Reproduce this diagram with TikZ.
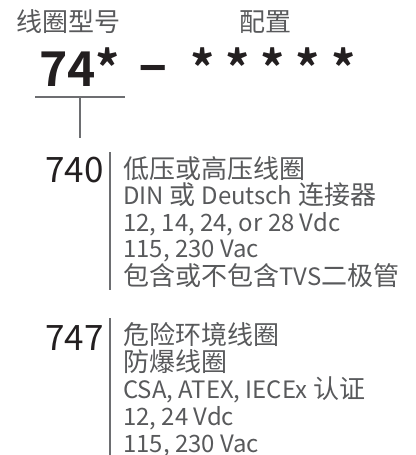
\documentclass[tikz,border=0pt]{standalone}
\usepackage{fontspec}
\setmainfont{Noto Sans CJK SC}[BoldFont={Noto Sans CJK SC Bold}]
\newfontfamily\latinfont{Noto Sans CJK SC}[Scale=0.92]
\newcommand{\latn}[1]{{\latinfont #1}}
\usepackage{tikz}
\usetikzlibrary{positioning,calc}

\definecolor{inkdark}{HTML}{231F20}
\definecolor{inkgrey}{HTML}{58595B}
\definecolor{rulegrey}{HTML}{6D6E71}

\begin{document}
\begin{tikzpicture}[x=1pt, y=-1pt,
  heading/.style={inner sep=0pt, text=inkgrey, font=\fontsize{26}{30}\selectfont},
  code/.style={inner sep=0pt, text=inkdark, anchor=base west, font=\fontsize{48}{52}\selectfont\bfseries},
  variant/.style={inner sep=0pt, text=inkdark, font=\fontsize{35}{40}\selectfont},
  details/.style={inner sep=0pt, text=inkgrey, align=left, anchor=north west, font=\fontsize{26}{#1}\selectfont},
  details/.default=26.5,
  rule/.style={draw=rulegrey, line width=2pt}]
  \useasboundingbox (0,0) rectangle (415,455);

  % header labels
  \node[heading] (hdrType) at (68.5,22) {线圈型号};
  \node[heading] (hdrCfg) at (265.5,22) {配置};

  % part number
  \node[code] (code) at (39,86) {74*};
  \node[code, anchor=base, font=\fontsize{54}{56}\selectfont\bfseries] (dash) at (153.5,83) {–};
  \node[code] (stars) at (190,86) {* * * * *};

  % bracket under the coil code
  \coordinate (brL) at (35,97);
  \coordinate (brR) at (125,97);
  \coordinate (stemTop) at ($(brL)!0.5!(brR)$);
  \coordinate (stemEnd) at (80,138);
  \draw[rule] (brL) -- (brR);
  \draw[rule] (stemTop) -- (stemEnd);

  % 740 coils
  \node[variant] (v740) at (74.5,170) {740};
  \coordinate (bar740Top) at (110,152);
  \coordinate (bar740End) at (110,290);
  \draw[rule] (bar740Top) -- (bar740End);
  \node[details] (d740) at (123,156) {低压或高压线圈\\\latn{DIN} 或 \latn{Deutsch} 连接器\\\latn{12, 14, 24, or 28 Vdc}\\\latn{115, 230 Vac}\\包含或不包含\latn{TVS}二极管};

  % 747 coils
  \node[variant] (v747) at (74.5,338.5) {747};
  \coordinate (bar747Top) at (110,318);
  \coordinate (bar747End) at (110,455);
  \draw[rule] (bar747Top) -- (bar747End);
  \node[details=27] (d747) at (123,322) {危险环境线圈\\防爆线圈\\\latn{CSA, ATEX, IECEx} 认证\\\latn{12, 24 Vdc}\\\latn{115, 230 Vac}};
\end{tikzpicture}
\end{document}
